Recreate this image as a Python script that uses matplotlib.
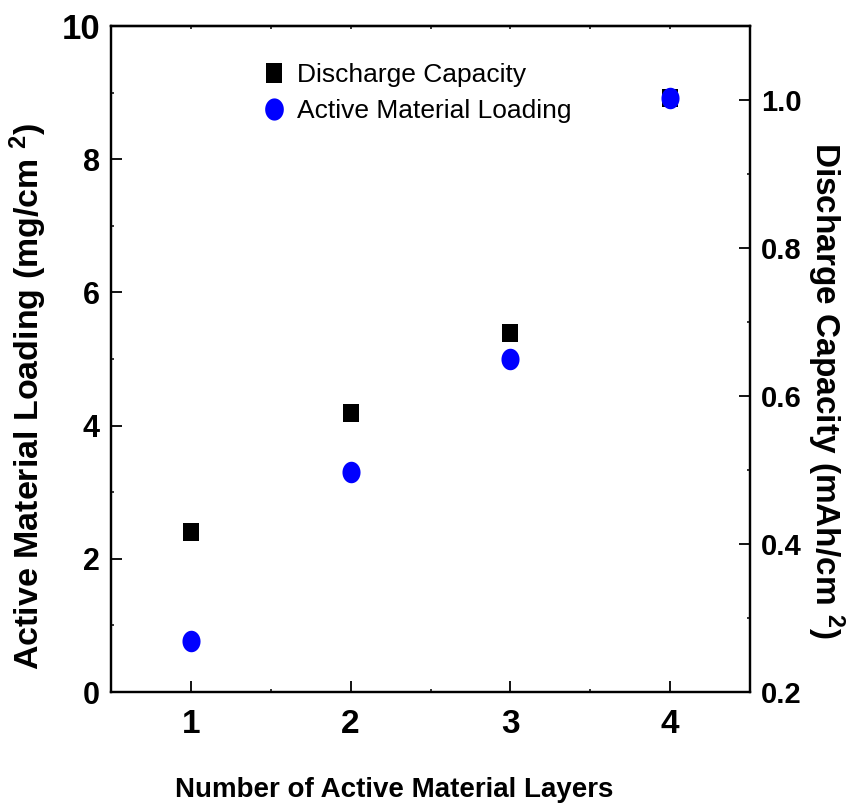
import numpy as np
import matplotlib
matplotlib.use('Agg')
import matplotlib.pyplot as plt
from matplotlib.ticker import MultipleLocator
from matplotlib.lines import Line2D

plt.rcParams['font.family'] = ['Liberation Sans Narrow', 'Liberation Sans', 'DejaVu Sans']
plt.rcParams['mathtext.default'] = 'regular'

layers = [1, 2, 3, 4]
loading = [0.77, 3.3, 5.0, 8.92]          # mg/cm2, left axis
capacity = [0.416, 0.577, 0.685, 1.003]   # mAh/cm2, right axis
left_ticks = [0, 2, 4, 6, 8, 10]
right_ticks = [0.2, 0.4, 0.6, 0.8, 1.0]

# markers in the original are slightly taller than wide
t = np.linspace(0, 2 * np.pi, 40)
ellipse = list(zip(0.84 * np.cos(t), np.sin(t)))
rect = [(-0.86, -1), (0.86, -1), (0.86, 1), (-0.86, 1), (-0.86, -1)]

fig = plt.figure(figsize=(8.5, 8.06), dpi=100)
ax = fig.add_axes([0.1306, 0.1414, 0.7518, 0.8263])
ax2 = ax.twinx()
ax.set_zorder(2)
ax.patch.set_visible(False)

ax2.plot(layers, capacity, linestyle='none', marker=rect, markersize=13.5,
         color='black', markeredgewidth=0)
ax.plot(layers, loading, linestyle='none', marker=ellipse, markersize=15.5,
        color='blue', markeredgewidth=0)

ax.set_xlim(0.5, 4.5)
ax.set_ylim(0, 10)
ax2.set_ylim(0.2, 1.1)

ax.set_xticks(layers)
ax.xaxis.set_minor_locator(MultipleLocator(0.5))
ax.set_yticks(left_ticks)
ax.set_yticklabels([str(v) for v in left_ticks])
ax.yaxis.set_minor_locator(MultipleLocator(1))
ax2.set_yticks(right_ticks)
ax2.set_yticklabels(['%.1f' % v for v in right_ticks])
ax2.yaxis.set_minor_locator(MultipleLocator(0.1))

for a in (ax, ax2):
    for s in a.spines.values():
        s.set_linewidth(1.6)
    a.tick_params(which='major', direction='in', length=8, width=1.3)
    a.tick_params(which='minor', direction='in', length=2.5, width=1.1)

ax.tick_params(axis='x', which='major', labelsize=24, pad=12)
ax.tick_params(axis='y', which='major', labelsize=22, pad=8)
ax2.tick_params(axis='y', which='major', labelsize=21, pad=8)
for lab in ax.get_xticklabels() + ax.get_yticklabels() + ax2.get_yticklabels():
    lab.set_fontweight('bold')
ax.get_yticklabels()[-1].set_fontsize(25)

top = ax.secondary_xaxis('top')
top.xaxis.set_major_locator(MultipleLocator(1))
top.xaxis.set_minor_locator(MultipleLocator(0.5))
top.tick_params(which='both', direction='in', length=2.5, width=1.1, labeltop=False)
top.spines['top'].set_linewidth(1.6)

fig.text(0.464, 0.02, 'Number of Active Material Layers', ha='center', va='center',
         fontsize=20, fontweight='bold')
fig.text(0.033, 0.509, 'Active Material Loading (mg/cm $^{2}$)', ha='center', va='center',
         rotation=90, fontsize=24.5, fontweight='bold')
fig.text(0.971, 0.516, 'Discharge Capacity (mAh/cm $^{2}$)', ha='center', va='center',
         rotation=-90, fontsize=24, fontweight='bold')

handles = [
    Line2D([], [], linestyle='none', marker=rect, markersize=14, color='black', markeredgewidth=0),
    Line2D([], [], linestyle='none', marker=ellipse, markersize=16, color='blue', markeredgewidth=0),
]
ax.legend(handles, ['Discharge Capacity', 'Active Material Loading'], loc='upper left',
          bbox_to_anchor=(0.297, 0.935), bbox_transform=fig.transFigure, frameon=False,
          fontsize=19, handlelength=0.8, handletextpad=0.5, labelspacing=0.45,
          borderaxespad=0)

fig.savefig('out.png', dpi=100)
